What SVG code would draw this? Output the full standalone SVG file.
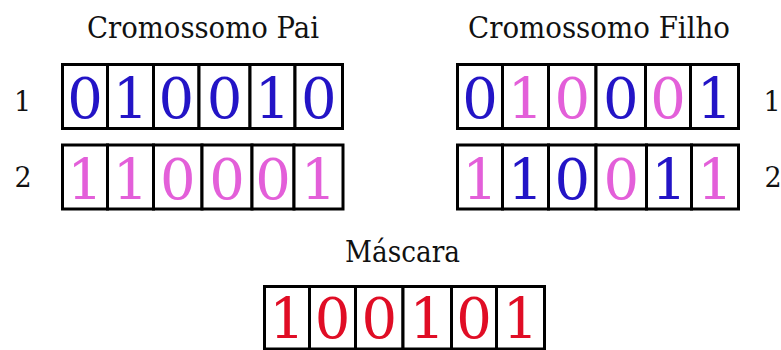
<svg xmlns="http://www.w3.org/2000/svg" width="781" height="350" viewBox="0 0 781 350">
<style>
text{font-family:'DejaVu Serif','Liberation Serif',serif}
.t{fill:#111;text-anchor:middle}
.title{font-size:30px}
.lbl{font-size:27px}
.c rect{fill:#fff;stroke:#000;stroke-width:3}
.d{font-size:56px;text-anchor:middle}
.b{fill:#2314c6}
.p{fill:#e35fd9}
.r{fill:#e00d25}
</style>
<rect width="781" height="350" fill="#fff"/>
<g id="title-pai"><text class="t title" x="87" y="38" style="text-anchor:start" textLength="232" lengthAdjust="spacingAndGlyphs">Cromossomo Pai</text></g>
<g id="title-filho"><text class="t title" x="468" y="38" style="text-anchor:start" textLength="262" lengthAdjust="spacingAndGlyphs">Cromossomo Filho</text></g>
<g id="title-mascara"><text class="t title" x="345" y="262" style="text-anchor:start" textLength="115" lengthAdjust="spacingAndGlyphs">Máscara</text></g>
<g id="labels">
<text class="t lbl" x="22.5" y="111">1</text>
<text class="t lbl" x="23" y="187">2</text>
<text class="t lbl" x="772" y="111">1</text>
<text class="t lbl" x="773" y="187">2</text>
</g>
<g id="pai-1" class="c">
<rect x="62.5" y="64.5" width="45" height="64"/>
<rect x="107.5" y="64.5" width="46" height="64"/>
<rect x="153.5" y="64.5" width="45.5" height="64"/>
<rect x="199" y="64.5" width="51" height="64"/>
<rect x="250" y="64.5" width="45" height="64"/>
<rect x="295" y="64.5" width="47.5" height="64"/>
<text class="d b" x="85" y="118">0</text>
<text class="d b" x="130.5" y="118">1</text>
<text class="d b" x="176.3" y="118">0</text>
<text class="d b" x="224.5" y="118">0</text>
<text class="d b" x="272.5" y="118">1</text>
<text class="d b" x="318.8" y="118">0</text>
</g>
<g id="pai-2" class="c">
<rect x="62.5" y="145" width="45" height="64"/>
<rect x="107.5" y="145" width="46" height="64"/>
<rect x="153.5" y="145" width="48.5" height="64"/>
<rect x="202" y="145" width="50" height="64"/>
<rect x="252" y="145" width="42" height="64"/>
<rect x="294" y="145" width="49" height="64"/>
<text class="d p" x="85" y="198.5">1</text>
<text class="d p" x="130.5" y="198.5">1</text>
<text class="d p" x="177.8" y="198.5">0</text>
<text class="d p" x="227" y="198.5">0</text>
<text class="d p" x="273" y="198.5">0</text>
<text class="d p" x="318.5" y="198.5">1</text>
</g>
<g id="filho-1" class="c">
<rect x="457.5" y="64.5" width="45" height="64"/>
<rect x="502.5" y="64.5" width="46" height="64"/>
<rect x="548.5" y="64.5" width="47.5" height="64"/>
<rect x="596" y="64.5" width="49.5" height="64"/>
<rect x="645.5" y="64.5" width="45" height="64"/>
<rect x="690.5" y="64.5" width="48" height="64"/>
<text class="d b" x="480" y="118">0</text>
<text class="d p" x="525.5" y="118">1</text>
<text class="d p" x="572.3" y="118">0</text>
<text class="d b" x="620.8" y="118">0</text>
<text class="d p" x="668" y="118">0</text>
<text class="d b" x="714.5" y="118">1</text>
</g>
<g id="filho-2" class="c">
<rect x="457.5" y="145" width="45" height="64"/>
<rect x="502.5" y="145" width="46" height="64"/>
<rect x="548.5" y="145" width="47.5" height="64"/>
<rect x="596" y="145" width="50.5" height="64"/>
<rect x="646.5" y="145" width="45" height="64"/>
<rect x="691.5" y="145" width="47" height="64"/>
<text class="d p" x="480" y="198.5">1</text>
<text class="d b" x="525.5" y="198.5">1</text>
<text class="d b" x="572.3" y="198.5">0</text>
<text class="d p" x="621.3" y="198.5">0</text>
<text class="d b" x="669" y="198.5">1</text>
<text class="d p" x="715" y="198.5">1</text>
</g>
<g id="mascara" class="c">
<rect x="264.5" y="286.5" width="45" height="62.5"/>
<rect x="309.5" y="286.5" width="46" height="62.5"/>
<rect x="355.5" y="286.5" width="47.5" height="62.5"/>
<rect x="403" y="286.5" width="48.5" height="62.5"/>
<rect x="451.5" y="286.5" width="45" height="62.5"/>
<rect x="496.5" y="286.5" width="48" height="62.5"/>
<text class="d r" x="287" y="337.5">1</text>
<text class="d r" x="332.5" y="337.5">0</text>
<text class="d r" x="379.3" y="337.5">0</text>
<text class="d r" x="427.3" y="337.5">1</text>
<text class="d r" x="474" y="337.5">0</text>
<text class="d r" x="520.5" y="337.5">1</text>
</g>
</svg>
